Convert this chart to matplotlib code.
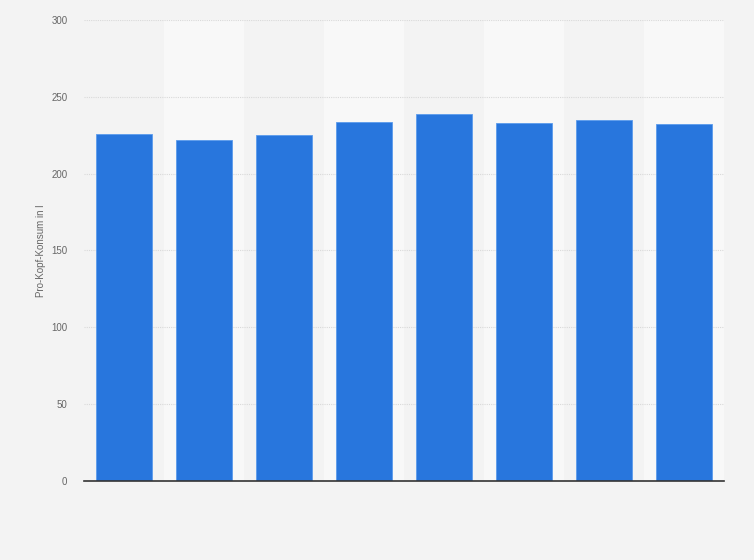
import numpy as np
import matplotlib
matplotlib.use('Agg')
import matplotlib.pyplot as plt

plt.rcParams['font.family'] = ['Liberation Sans', 'DejaVu Sans']

# Pro-Kopf-Konsum in Litern (x labels are not shown in the chart)
categories = ['1', '2', '3', '4', '5', '6', '7', '8']
values = [225.6, 221.8, 225.0, 233.6, 238.8, 233.0, 234.9, 232.3]
y_ticks = [0, 50, 100, 150, 200, 250, 300]

fig = plt.figure(figsize=(7.54, 5.6), dpi=100)
fig.patch.set_facecolor('#f3f3f3')
ax = fig.add_axes([84 / 754, 1 - 481 / 560, 640 / 754, 461 / 560])
ax.set_facecolor('#f3f3f3')

x = np.arange(len(categories))

# alternating light column bands
for i in x:
    if i % 2 == 1:
        ax.axvspan(i - 0.5, i + 0.5, color='#f8f8f8', zorder=0, lw=0)

ax.bar(x, values, width=0.69, color='#2876dd', edgecolor='#5b9bec',
       linewidth=0.6, zorder=3)

ax.set_xlim(-0.5, len(categories) - 0.5)
ax.set_ylim(0, 300)
ax.set_yticks(y_ticks)
ax.set_yticklabels([str(t) for t in y_ticks])
ax.set_xticks([])
ax.grid(axis='y', color='#d9d9d9', linestyle=(0, (1, 1)), linewidth=0.8, zorder=1)
ax.tick_params(axis='y', length=0, pad=12, labelsize=7, labelcolor='#666666')

for s in ['top', 'right', 'left']:
    ax.spines[s].set_visible(False)
ax.spines['bottom'].set_color('#333333')
ax.spines['bottom'].set_linewidth(1.2)
ax.spines['bottom'].set_zorder(4)

ax.set_ylabel('Pro-Kopf-Konsum in l', fontsize=7, color='#666666', labelpad=4)

fig.savefig('out.png', dpi=100, facecolor=fig.get_facecolor())
